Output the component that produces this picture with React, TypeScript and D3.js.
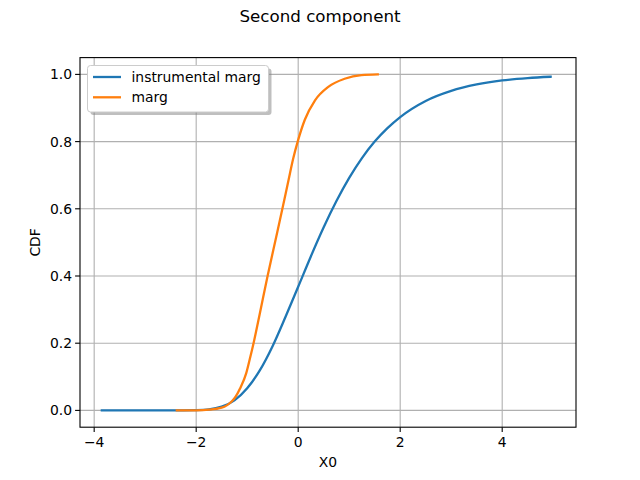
import React from "react";
import * as d3 from "d3";

const title = "Second component";
const xLabel = "X0";
const yLabel = "CDF";
const seriesNames = ["instrumental marg", "marg"];
const colors = ["#1f77b4", "#ff7f0e"];

const instrumentalX = [-3.85, -3.5, -3, -2.5, -2, -1.75, -1.5, -1.25, -1, -0.75, -0.5, -0.25, 0, 0.25, 0.5, 0.75, 1, 1.25, 1.5, 1.75, 2, 2.5, 3, 3.5, 4, 4.5, 4.95];
const instrumentalY = [0, 0, 0, 0, 0.001, 0.003, 0.011, 0.03, 0.066, 0.12, 0.192, 0.278, 0.368, 0.459, 0.545, 0.623, 0.692, 0.751, 0.8, 0.84, 0.873, 0.921, 0.951, 0.97, 0.982, 0.989, 0.993];

const margX = [-2.38, -2.0, -1.75, -1.5, -1.4, -1.3, -1.23, -1.14, -1.02, -0.95, -0.875, -0.75, -0.6, -0.44, -0.31, -0.19, -0.1, 0, 0.13, 0.33, 0.59, 0.91, 1.24, 1.56];
const margY = [0, 0.0003, 0.002, 0.008, 0.015, 0.027, 0.04, 0.065, 0.11, 0.152, 0.2, 0.29, 0.4, 0.51, 0.6, 0.685, 0.748, 0.805, 0.865, 0.923, 0.963, 0.987, 0.998, 1.0];

const xTicks = [-4, -2, 0, 2, 4];
const yTicks = [0, 0.2, 0.4, 0.6, 0.8, 1.0];

export default function App() {
  const W = 640, H = 480;
  const left = 80, right = 576, top = 57.6, bottom = 427.2;
  const x = d3.scaleLinear().domain([-4.278, 5.447]).range([left, right]);
  const y = d3.scaleLinear().domain([-0.05, 1.05]).range([bottom, top]);
  const line = d3.line<[number, number]>().x(d => x(d[0])).y(d => y(d[1])).curve(d3.curveMonotoneX);
  const series: [number, number][][] = [
    instrumentalX.map((v, i) => [v, instrumentalY[i]]),
    margX.map((v, i) => [v, margY[i]]),
  ];
  const font = "DejaVu Sans, sans-serif";
  const fmtX = (v: number) => (v < 0 ? "\u2212" + Math.abs(v) : String(v));
  const lgX = 87.5, lgY = 65.5, lgW = 181, lgH = 46.5;
  return (
    <svg width={W} height={H} style={{ position: "absolute", left: 0, top: 0, background: "#fff" }} fontFamily={font}>
      <rect x={0} y={0} width={W} height={H} fill="#fff" />
      <text x={320} y={22} fontSize={16.7} textAnchor="middle">{title}</text>
      <defs>
        <clipPath id="clip"><rect x={left} y={top} width={right - left} height={bottom - top} /></clipPath>
      </defs>
      <g clipPath="url(#clip)">
        {xTicks.map(t => (
          <line key={"gx" + t} x1={x(t)} x2={x(t)} y1={top} y2={bottom} stroke="#b0b0b0" strokeWidth={1.1} />
        ))}
        {yTicks.map(t => (
          <line key={"gy" + t} x1={left} x2={right} y1={y(t)} y2={y(t)} stroke="#b0b0b0" strokeWidth={1.1} />
        ))}
      </g>
      {series.map((s, i) => (
        <path key={i} d={line(s) || ""} fill="none" stroke={colors[i]} strokeWidth={2.3} strokeLinecap="square" clipPath="url(#clip)" />
      ))}
      <rect x={left} y={top} width={right - left} height={bottom - top} fill="none" stroke="#000" strokeWidth={1.1} />
      {xTicks.map(t => (
        <g key={"tx" + t}>
          <line x1={x(t)} x2={x(t)} y1={bottom} y2={bottom + 4.9} stroke="#000" strokeWidth={1.1} />
          <text x={x(t)} y={bottom + 20} fontSize={13.9} textAnchor="middle">{fmtX(t)}</text>
        </g>
      ))}
      {yTicks.map(t => (
        <g key={"ty" + t}>
          <line x1={left - 4.9} x2={left} y1={y(t)} y2={y(t)} stroke="#000" strokeWidth={1.1} />
          <text x={left - 8} y={y(t) + 5} fontSize={13.9} textAnchor="end">{t.toFixed(1)}</text>
        </g>
      ))}
      <text x={(left + right) / 2} y={467} fontSize={13.9} textAnchor="middle">{xLabel}</text>
      <text transform={`translate(40, ${(top + bottom) / 2}) rotate(-90)`} fontSize={13.9} textAnchor="middle">{yLabel}</text>
      <rect x={lgX + 3} y={lgY + 3} width={lgW} height={lgH} rx={3} fill="#7f7f7f" opacity={0.5} />
      <rect x={lgX} y={lgY} width={lgW} height={lgH} rx={3} fill="#fff" stroke="#cccccc" strokeWidth={1} />
      {seriesNames.map((n, i) => (
        <g key={n}>
          <line x1={lgX + 5.5} x2={lgX + 33.5} y1={lgY + 11.5 + i * 20.3} y2={lgY + 11.5 + i * 20.3} stroke={colors[i]} strokeWidth={2.3} />
          <text x={lgX + 44} y={lgY + 16.3 + i * 20.3} fontSize={13.9}>{n}</text>
        </g>
      ))}
    </svg>
  );
}
